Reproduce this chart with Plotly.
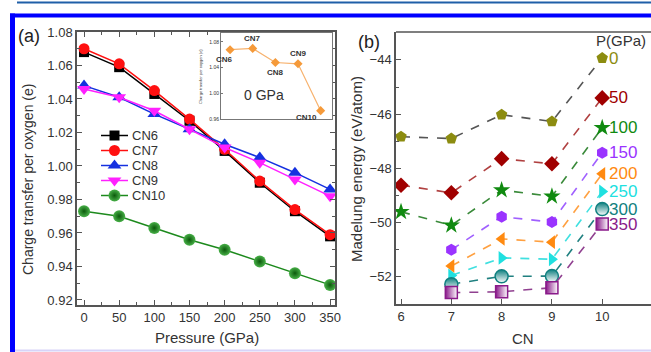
import plotly.graph_objects as go

W, H = 651, 352

# ---------------- data: panel (a) ----------------
pressure = [0, 50, 100, 150, 200, 250, 300, 350]
cn6 = [1.068, 1.059, 1.043, 1.027, 1.009, 0.990, 0.973, 0.958]
cn7 = [1.070, 1.061, 1.045, 1.028, 1.010, 0.991, 0.974, 0.959]
cn8 = [1.048, 1.041, 1.031, 1.022, 1.013, 1.005, 0.996, 0.986]
cn9 = [1.046, 1.041, 1.033, 1.022, 1.011, 1.002, 0.992, 0.982]
cn10 = [0.973, 0.970, 0.963, 0.956, 0.950, 0.943, 0.936, 0.929]
series_names = ["CN6", "CN7", "CN8", "CN9", "CN10"]

# inset (0 GPa)
inset_cn = [6, 7, 8, 9, 10]
inset_labels = ["CN6", "CN7", "CN8", "CN9", "CN10"]
inset_q = [1.068, 1.070, 1.048, 1.046, 0.973]

# ---------------- data: panel (b) ----------------
cn = [6, 7, 8, 9, 10]
p_labels = ["0", "50", "100", "150", "200", "250", "300", "350"]
e0 = [-46.83, -46.90, -46.02, -46.27, -43.93]
e50 = [-48.62, -48.90, -47.64, -47.83, -45.40]
e100 = [-49.60, -50.10, -48.80, -49.03, -46.50]
e150 = [None, -51.00, -49.78, -49.98, -47.42]
e200 = [None, -51.60, -50.60, -50.72, -48.20]
e250 = [None, -51.95, -51.30, -51.35, -48.85]
e300 = [None, -52.27, -51.98, -51.97, -49.50]
e350 = [None, -52.58, -52.55, -52.40, -50.05]


def px(x):
    return x / W


def py(y):
    return 1 - y / H


fig = go.Figure()

# ---- panel (a) series ----
styles_a = [
    ("#000000", dict(symbol="square", size=10, color="#000000")),
    ("#ff1010", dict(symbol="circle", size=11, color="#ff1010")),
    ("#1530e0", dict(symbol="triangle-up", size=12, color="#1530e0")),
    ("#ff20ff", dict(symbol="triangle-down", size=12, color="#ff20ff")),
    ("#1d8a1d", dict(symbol="circle", size=12, color="#48b048",
                     gradient=dict(type="radial", color="#0b5a0b"))),
]
data_a = [cn6, cn7, cn8, cn9, cn10]
for name, ys, (col, mk) in zip(series_names, data_a, styles_a):
    fig.add_trace(go.Scatter(
        x=pressure, y=ys, name=name, mode="lines+markers",
        line=dict(color=col, width=1.5), marker=mk,
        xaxis="x", yaxis="y", showlegend=False))

# ---- manual legend for panel (a) on an overlay axis ----
for i, (name, (col, mk)) in enumerate(zip(series_names, styles_a)):
    fig.add_trace(go.Scatter(
        x=[0, 1], y=[i, i], mode="lines", line=dict(color=col, width=1.5),
        xaxis="x4", yaxis="y4", showlegend=False, hoverinfo="skip"))
    fig.add_trace(go.Scatter(
        x=[0.5], y=[i], mode="markers", marker=mk,
        xaxis="x4", yaxis="y4", showlegend=False, hoverinfo="skip"))
    fig.add_annotation(x=1, y=i, xref="x4", yref="y4", text=name,
                       showarrow=False, xanchor="left", yanchor="middle",
                       xshift=2, font=dict(size=13, color="#333333"))

# ---- inset ----
fig.add_trace(go.Scatter(
    x=inset_cn, y=inset_q, mode="lines+markers",
    line=dict(color="#f7b26e", width=1.2),
    marker=dict(symbol="diamond", size=7, color="#f59a3a"),
    xaxis="x3", yaxis="y3", showlegend=False))

# ---- panel (b) series ----
series_b = [
    (e0, "#8c8c10", "pentagon", 12, "#555555"),
    (e50, "#a00000", "diamond", 12, "#b04040"),
    (e100, "#108a10", "star", 13, "#3a8a3a"),
    (e150, "#9a33ff", "hexagon", 12, "#a060ff"),
    (e200, "#ff8a10", "triangle-left", 12, "#ffa040"),
    (e250, "#20e0e0", "triangle-right", 12, "#40e0e0"),
    (e300, "#108080", "circle", 13, "#208080"),
    (e350, "#8a1a8a", "square", 12, "#904090"),
]
for i, (ys, col, sym, sz, lcol) in enumerate(series_b):
    mk = dict(symbol=sym, size=sz, color=col, line=dict(width=0))
    if i == 6:
        mk = dict(symbol="circle", size=sz, color="#108080",
                  gradient=dict(type="vertical", color="#ffffff"),
                  line=dict(width=1.5, color="#108080"))
    if i == 7:
        mk = dict(symbol="square", size=sz, color="#8a1a8a",
                  gradient=dict(type="horizontal", color="#ffffff"),
                  line=dict(width=1.5, color="#8a1a8a"))
    fig.add_trace(go.Scatter(
        x=cn, y=ys, mode="lines+markers", connectgaps=False,
        line=dict(color=lcol, width=1.6, dash="dash"), marker=mk,
        xaxis="x2", yaxis="y2", showlegend=False))
    fig.add_annotation(x=cn[-1], y=ys[-1], xref="x2", yref="y2",
                       text=p_labels[i], showarrow=False, xanchor="left",
                       yanchor="middle", xshift=5,
                       font=dict(size=17, color=col))

ax_common = dict(showline=True, linecolor="#555555", linewidth=1.5,
                 ticks="inside", tickcolor="#555555", ticklen=5,
                 showgrid=False, zeroline=False, mirror="ticks",
                 tickfont=dict(size=13, color="#333333"))
ax_b = dict(showline=True, linecolor="#555555", linewidth=1.5,
            ticks="inside", tickcolor="#555555", ticklen=5, showgrid=False,
            zeroline=False, mirror=False, tickfont=dict(size=13, color="#333333"))
hidden = dict(visible=False, showgrid=False, zeroline=False, fixedrange=True)

fig.update_layout(
    width=W, height=H,
    margin=dict(l=0, r=0, t=0, b=0, autoexpand=False),
    paper_bgcolor="white", plot_bgcolor="white",
    font=dict(family="Liberation Sans, Arial, sans-serif", color="#333333"),
    showlegend=False,
    xaxis=dict(domain=[px(77), px(335)], anchor="y", range=[-10, 357],
               tickvals=pressure,
               minor=dict(ticks="inside", ticklen=3, dtick=25, tickcolor="#555555"),
               **ax_common),
    yaxis=dict(domain=[py(305), py(32)], anchor="x", range=[0.917, 1.08],
               tickvals=[0.92, 0.94, 0.96, 0.98, 1.00, 1.02, 1.04, 1.06, 1.08],
               ticktext=["0.92", "0.94", "0.96", "0.98", "1.00", "1.02", "1.04", "1.06", "1.08"],
               minor=dict(ticks="inside", ticklen=3, dtick=0.01, tickcolor="#555555"),
               **ax_common),
    xaxis2=dict(domain=[px(396), 1.0], anchor="y2", range=[5.9, 10.97],
                tickvals=cn, **ax_b),
    yaxis2=dict(domain=[py(304), py(32)], anchor="x2", range=[-53.0, -42.97],
                tickvals=[-52, -50, -48, -46, -44],
                minor=dict(ticks="inside", ticklen=3, dtick=1, tickcolor="#555555"),
                **ax_b),
    xaxis3=dict(domain=[px(221), px(332)], anchor="y3", range=[5.6, 10.5],
                showticklabels=False, showline=True, linecolor="#777777",
                linewidth=1, mirror=True, ticks="", showgrid=False, zeroline=False),
    yaxis3=dict(domain=[py(119), py(33)], anchor="x3", range=[0.96, 1.094],
                tickvals=[0.96, 1.00, 1.04, 1.08],
                ticktext=["0.96", "1.00", "1.04", "1.08"],
                showline=True, linecolor="#777777", linewidth=1, mirror=True,
                ticks="inside", ticklen=2, tickcolor="#777777", showgrid=False,
                zeroline=False, tickfont=dict(size=5, color="#333333")),
    xaxis4=dict(domain=[px(101), px(128)], anchor="y4", range=[0, 1], **hidden),
    yaxis4=dict(domain=[py(203), py(128)], anchor="x4", range=[4.5, -0.5], **hidden),
    shapes=[
        dict(type="line", xref="paper", yref="paper", x0=px(17), x1=1, y0=py(2.5), y1=py(2.5),
             line=dict(color="#1f5fa8", width=2)),
        dict(type="line", xref="paper", yref="paper", x0=px(10), x1=1, y0=py(15.5), y1=py(15.5),
             line=dict(color="#0000ff", width=4)),
        dict(type="line", xref="paper", yref="paper", x0=px(12.5), x1=px(12.5), y0=0, y1=py(13.5),
             line=dict(color="#0000ff", width=5)),
        dict(type="line", xref="paper", yref="paper", x0=px(15), x1=1, y0=py(350.5), y1=py(350.5),
             line=dict(color="#d8d4f8", width=2)),
        dict(type="line", xref="paper", yref="paper", x0=px(396), x1=1, y0=py(32), y1=py(32),
             line=dict(color="#555555", width=1.5)),
    ],
)

# inset point labels
inset_shift = [(-6, -10), (0, 10), (0, -10), (0, 10), (-14, -7)]
for xv, yv, lab, (dx, dy) in zip(inset_cn, inset_q, inset_labels, inset_shift):
    fig.add_annotation(x=xv, y=yv, xref="x3", yref="y3", text="<b>" + lab + "</b>",
                       showarrow=False, xshift=dx, yshift=dy,
                       xanchor="center", yanchor="middle",
                       font=dict(size=8, color="#333333"))

annots = [
    dict(x=px(264), y=py(95), text="0 GPa", font=dict(size=14, color="#333333")),
    dict(x=px(29), y=py(36), text="(a)", font=dict(size=18, color="#222222")),
    dict(x=px(369), y=py(42), text="(b)", font=dict(size=18, color="#222222")),
    dict(x=px(207), y=py(337), text="Pressure (GPa)", font=dict(size=15, color="#333333")),
    dict(x=px(523), y=py(338), text="CN", font=dict(size=15, color="#333333")),
    dict(x=px(28), y=py(180), text="Charge transfer per oxygen (e)", textangle=-90,
         font=dict(size=14, color="#333333")),
    dict(x=px(356), y=py(169), text="Madelung energy (eV/atom)", textangle=-90,
         font=dict(size=15, color="#333333")),
    dict(x=px(621), y=py(41), text="P(GPa)", font=dict(size=15, color="#333333")),
    dict(x=px(200), y=py(77), text="Charge transfer per oxygen (e)", textangle=-90,
         font=dict(size=4, color="#333333")),
]
for a in annots:
    fig.add_annotation(xref="paper", yref="paper", showarrow=False,
                       xanchor="center", yanchor="middle", **a)

fig.write_html("out.html",
               config={"displayModeBar": False},
               post_script="document.body.style.margin='0';document.body.style.overflow='hidden';")
